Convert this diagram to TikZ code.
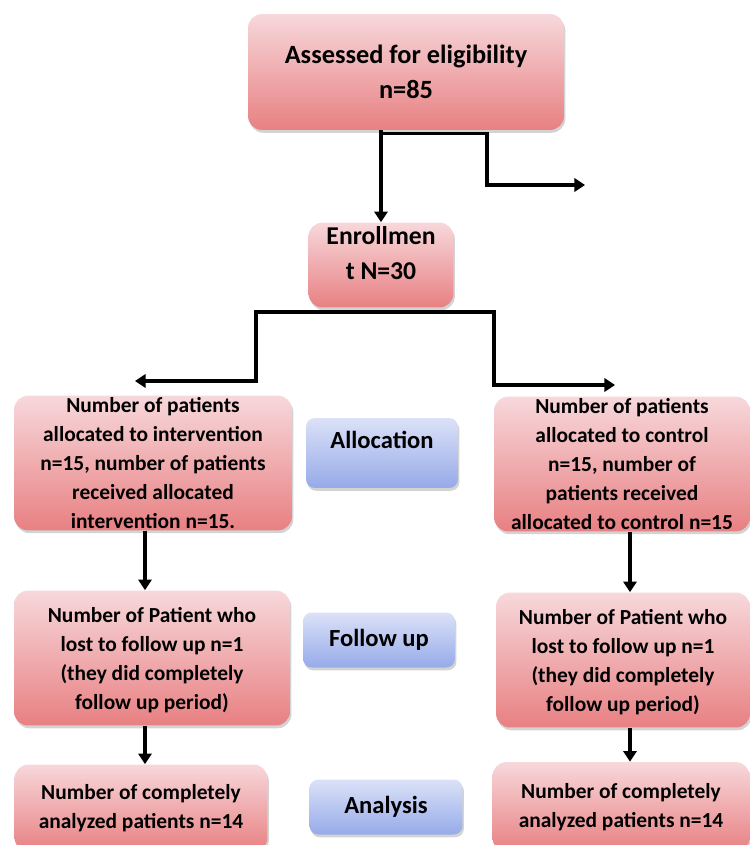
\documentclass[tikz,border=0pt]{standalone}
\usepackage{fontspec}
\setmainfont{Carlito}
\usepackage{xcolor}
\usepackage{tikz}
\usetikzlibrary{arrows.meta, positioning, calc, shadows}
\definecolor{pinktop}{RGB}{247,216,219}
\definecolor{pinkbot}{RGB}{232,128,130}
\definecolor{bluetop}{RGB}{219,225,247}
\definecolor{bluebot}{RGB}{150,170,233}

\begin{document}
\begin{tikzpicture}[
    x=0.02cm, y=-0.02cm,
    box/.style={rectangle, rounded corners=8pt, align=center, inner sep=1pt,
        font=\bfseries\fontsize{12.2}{16.5}\selectfont,
        drop shadow={shadow xshift=0.8pt, shadow yshift=-1.6pt, opacity=0.35}},
    arm/.style={box, top color=pinktop, bottom color=pinkbot},
    head/.style={arm, font=\bfseries\fontsize{14.6}{20}\selectfont},
    stage/.style={box, rounded corners=5pt, top color=bluetop, bottom color=bluebot,
        font=\bfseries\fontsize{14}{17}\selectfont},
    arrow/.style={-{Triangle[length=6pt, width=7.5pt]}, line width=2pt}
]
\useasboundingbox (0,0) rectangle (750,845);
\clip (0,0) rectangle (750,845);

% Boxes
\node[head, font=\bfseries\fontsize{15}{20}\selectfont, minimum width=6.32cm, minimum height=2.32cm, text depth=-2pt] (assess) at (406,72) {Assessed for eligibility\\n=85};
\node[head, minimum width=2.9cm, minimum height=1.7cm, text depth=14pt] (enroll) at (381,265) {Enrollmen\\t N=30};

\node[arm, minimum width=5.56cm, minimum height=2.68cm] (allocL) at (153,463) {Number of patients\\allocated to intervention\\n=15, number of patients\\received allocated\\intervention n=15.};
\node[arm, minimum width=5.12cm, minimum height=2.64cm] (allocR) at (622,464) {Number of patients\\allocated to control\\n=15, number of\\patients received\\allocated to control n=15};

\node[arm, minimum width=5.52cm, minimum height=2.7cm, text depth=-3pt] (followL) at (152,658) {Number of Patient who\\lost to follow up n=1\\(they did completely\\follow up period)};
\node[arm, minimum width=5.08cm, minimum height=2.7cm, text depth=-3pt] (followR) at (623,660) {Number of Patient who\\lost to follow up n=1\\(they did completely\\follow up period)};

\node[arm, minimum width=5.06cm, minimum height=1.74cm] (analyzedL) at (141,808) {Number of completely\\analyzed patients n=14};
\node[arm, minimum width=5.14cm, minimum height=1.8cm] (analyzedR) at (621,807) {Number of completely\\analyzed patients n=14};

% Stages
\node[stage, minimum width=3.04cm, minimum height=1.4cm, text depth=15pt] (alloc) at (382,453) {Allocation};
\node[stage, minimum width=3.04cm, minimum height=1.1cm] (follow) at (379,640) {Follow up};
\node[stage, minimum width=3.06cm, minimum height=1.1cm] (analysis) at (386,807) {Analysis};

% Eligibility
\coordinate (split) at ($(assess.south -| enroll.north)+(0,3)$);
\coordinate (exclbend) at (487,185);
\coordinate (excl) at (585,185);
\draw[arrow] (assess.south -| enroll.north) -- (enroll.north);
\draw[arrow] (split) -| (exclbend) -- (excl);

% Randomisation
\coordinate (fork) at ($(enroll.south)+(0,4)$);
\coordinate (forkL) at (256,381);
\coordinate (forkR) at (494,385);
\coordinate (toL) at (135,381);
\coordinate (toR) at (615,385);
\draw[arrow] (fork) -| (forkL) -- (toL);
\draw[arrow] (fork) -| (forkR) -- (toR);

% Arms
\coordinate (colL) at (145,0);
\coordinate (colR) at (630,0);
\draw[arrow] (allocL.south -| colL) -- (followL.north -| colL);
\draw[arrow] (allocR.south -| colR) -- (followR.north -| colR);
\draw[arrow] (followL.south -| colL) -- (analyzedL.north -| colL);
\draw[arrow] (followR.south -| colR) -- (analyzedR.north -| colR);

\end{tikzpicture}
\end{document}
